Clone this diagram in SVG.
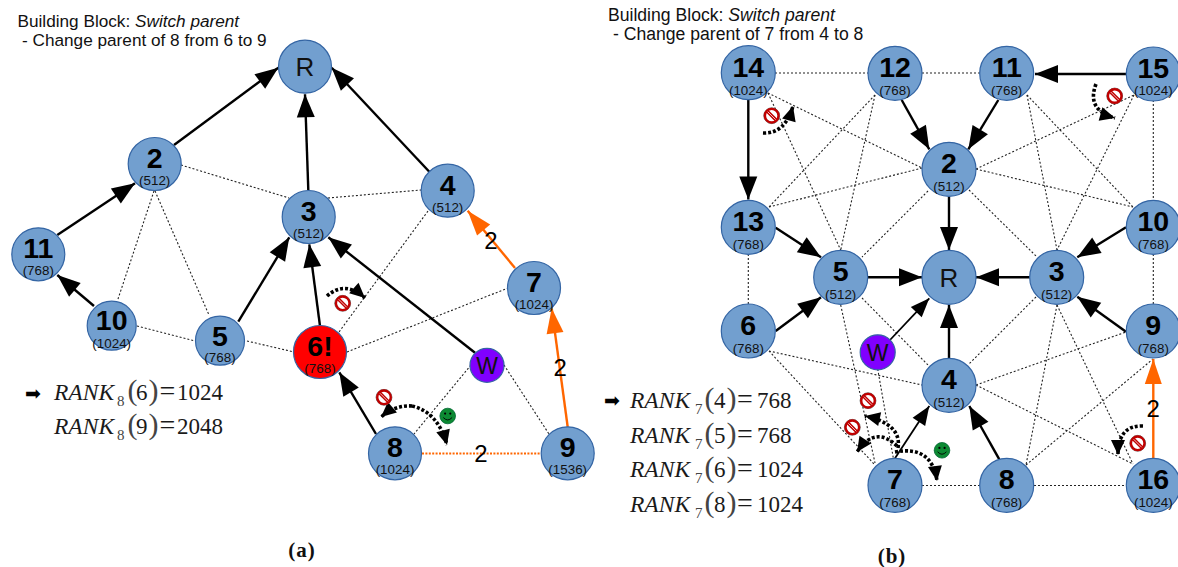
<svg xmlns="http://www.w3.org/2000/svg" xmlns:xlink="http://www.w3.org/1999/xlink" width="1178" height="567" viewBox="0 0 1178 567">
<style>
text{font-family:"Liberation Sans",Arial,sans-serif;fill:#111}
.n{fill:#729fcf;stroke:#3465a4;stroke-width:1.2}
.red{fill:#ff0000}
.pur{fill:#8000ff}
.id{font-size:28.5px;font-weight:700;text-anchor:middle;fill:#000}
.rk{font-size:13.4px;text-anchor:middle}
.big{font-size:26px;text-anchor:middle}
.t{font-size:17.2px}
.t2{font-size:17.6px}
.w{font-size:24px;text-anchor:middle;fill:#000}
.dot{fill:none;stroke:#222;stroke-width:1.1;stroke-dasharray:2 2}
.s{fill:none;stroke:#000;stroke-width:2.4;marker-end:url(#h)}
.th{fill:none;stroke:#000;stroke-width:1.8;marker-end:url(#h2)}
.o{fill:none;stroke:#ff6600;stroke-width:2.4;marker-end:url(#ho)}
.od{fill:none;stroke:#ff6600;stroke-width:2.2;stroke-dasharray:2 1.4}
.c{fill:none;stroke:#000;stroke-width:3.6;stroke-dasharray:3 2;marker-end:url(#hc)}
.f,.f tspan{font-family:"Liberation Serif","Times New Roman",serif}
.f{font-size:23px;fill:#1a1a1a}
.i{font-style:italic;font-size:23.5px}
.sub{font-size:15px;fill:#444}
.p{font-size:30px;fill:#444}
.e{font-size:28px}
.ar{font-family:"DejaVu Sans",sans-serif;font-size:19px;fill:#000}
.cap{font-family:"Liberation Serif","Times New Roman",serif;font-size:21px;font-weight:700;letter-spacing:1px;text-anchor:middle;fill:#111}
</style>
<defs>
<marker id="h" markerUnits="userSpaceOnUse" markerWidth="24" markerHeight="18" refX="0" refY="0" orient="auto" overflow="visible"><path d="M-23,-9L0,0L-23,9Z" fill="#000"/></marker>
<marker id="h2" markerUnits="userSpaceOnUse" markerWidth="24" markerHeight="18" refX="0" refY="0" orient="auto" overflow="visible"><path d="M-19,-7.5L0,0L-19,7.5Z" fill="#000"/></marker>
<marker id="ho" markerUnits="userSpaceOnUse" markerWidth="24" markerHeight="18" refX="0" refY="0" orient="auto" overflow="visible"><path d="M-25,-8.5L0,0L-25,8.5Z" fill="#ff6600"/></marker>
<marker id="hc" markerUnits="userSpaceOnUse" markerWidth="16" markerHeight="14" refX="0" refY="0" orient="auto" overflow="visible"><path d="M-15,-7L0,0L-15,7Z" fill="#000"/></marker>
<g id="no"><circle r="7.9" fill="#fff" stroke="#111" stroke-width="0.6"/><circle r="6.8" fill="#fff" stroke="#c00000" stroke-width="2.4"/><path d="M-4.8,-4.8L4.8,4.8" stroke="#c00000" stroke-width="3.4"/><path d="M-4,-4L4,4" stroke="#f4d0d0" stroke-width="0.9"/></g>
<g id="sm"><circle r="7.8" fill="#0d8a33" stroke="#063" stroke-width="0.8"/><circle cx="-2.6" cy="-2.4" r="1.1" fill="#000"/><circle cx="2.6" cy="-2.4" r="1.1" fill="#000"/><path d="M-4.4,1.5Q0,6.4 4.4,1.5" fill="none" stroke="#000" stroke-width="0.9"/></g>
</defs>

<g id="connectors">
<g id="a-dotted">
<path class="dot" d="M181,165L289,198"/>
<path class="dot" d="M154,191L118,299"/>
<path class="dot" d="M155,191L209,315"/>
<path class="dot" d="M328,198L421,190"/>
<path class="dot" d="M428,211L339,332"/>
<path class="dot" d="M137,326L195,341"/>
<path class="dot" d="M247,341L294,352"/>
<path class="dot" d="M347,352L508,288"/>
<path class="dot" d="M471,365L414,434"/>
<path class="dot" d="M504,365L549,434"/>
<path class="od" d="M422,453.5H541"/>
</g>
<g id="a-solid">
<path class="s" d="M174,145L278.3,67.7"/>
<path class="s" d="M308.3,190L305,94.3"/>
<path class="s" d="M429.3,171.7L331.7,67.7"/>
<path class="s" d="M57.3,235L135,183.3"/>
<path class="s" d="M94,306L57.3,275"/>
<path class="s" d="M238.3,321.7L289.3,237.3"/>
<path class="s" d="M320,326L309.3,244.3"/>
<path class="s" d="M475,352.7L328.3,237.3"/>
<path class="s" d="M376,434L339.3,372.3"/>
<path class="o" d="M515,268L467.7,210.7"/>
<path class="o" d="M567.7,427L551.7,308.3"/>
</g>
<g id="a-curved">
<path class="c" d="M327,296Q345,280 365,298"/>
<path class="c" d="M412,406Q395,405 381,417"/>
<path class="c" d="M412,406Q438,412 447,445"/>
</g>
<g id="b-dotted">
<path class="dot" d="M775,73H868"/>
<path class="dot" d="M922,73H980"/>
<path class="dot" d="M768,93L922,168"/>
<path class="dot" d="M768,93L840.7,250"/>
<path class="dot" d="M875,95L769,207"/>
<path class="dot" d="M875,95L840.7,250"/>
<path class="dot" d="M769,207L922,168"/>
<path class="dot" d="M928,191L862,257"/>
<path class="dot" d="M748.3,254V304"/>
<path class="dot" d="M1027,95L1057,250"/>
<path class="dot" d="M1027,95L1133,207"/>
<path class="dot" d="M976,169L1134,95"/>
<path class="dot" d="M1134,95L1057,250"/>
<path class="dot" d="M976,169L1133,207"/>
<path class="dot" d="M969,190L1037,257"/>
<path class="dot" d="M1153.3,100V200"/>
<path class="dot" d="M1153.3,254V304"/>
<path class="dot" d="M1036,297L969,364"/>
<path class="dot" d="M1057,305L1026,465"/>
<path class="dot" d="M1057,305L1133,464"/>
<path class="dot" d="M976,385L1126,332"/>
<path class="dot" d="M976,385L1133,464"/>
<path class="dot" d="M1026,465L1153,359"/>
<path class="dot" d="M922,485.5H980"/>
<path class="dot" d="M1034,485.5H1126"/>
<path class="dot" d="M769,351L922,385"/>
<path class="dot" d="M769,351L875,465"/>
<path class="dot" d="M840.7,305L875,463"/>
<path class="dot" d="M862,298L928,365"/>
<path class="dot" d="M877.7,369L893.3,458"/>
</g>
<g id="b-solid">
<path class="s" d="M901.7,100L929.3,149.3"/>
<path class="s" d="M998.3,100L968.3,149.3"/>
<path class="s" d="M1126,74L1035,74"/>
<path class="s" d="M748.3,100L748.3,199.5"/>
<path class="s" d="M775.7,227.7L821,257.3"/>
<path class="s" d="M949,196.5L949,250"/>
<path class="s" d="M868,277.3L922,277.3"/>
<path class="s" d="M1030,277.3L976,277.3"/>
<path class="s" d="M1126,227.3L1077.3,257.3"/>
<path class="s" d="M1126,331.7L1077.3,296.7"/>
<path class="s" d="M775.7,331L821,297.3"/>
<path class="th" d="M890,340L929.3,298.3"/>
<path class="s" d="M949,358.5L949,305"/>
<path class="th" d="M895,458.3L929.3,406"/>
<path class="s" d="M999.3,459.3L969.3,406"/>
<path class="o" d="M1153.3,458.5L1153.3,359"/>
</g>
<g id="b-curved">
<path class="c" d="M763,133Q785,134 793,106"/>
<path class="c" d="M1096,84Q1086,110 1115,118"/>
<path class="c" d="M1143,426Q1118,425 1118,455"/>
<path class="c" d="M898,448Q902,424 865,416"/>
<path class="c" d="M897,446Q875,425 857,452"/>
<path class="c" d="M895,452Q932,445 937,481"/>
</g>
</g>

<g id="a-nodes">
<g id="a-R"><circle class="n" cx="305" cy="66.7" r="26.5"/><text class="big" x="305" y="76">R</text></g>
<g id="a-2"><circle class="n" cx="154.7" cy="164" r="26.5"/><text class="id" x="154.7" y="168">2</text><text class="rk" x="154.7" y="185">(512)</text></g>
<g id="a-3"><circle class="n" cx="308.7" cy="217" r="26.5"/><text class="id" x="308.7" y="221">3</text><text class="rk" x="308.7" y="238">(512)</text></g>
<g id="a-4"><circle class="n" cx="447.7" cy="190.7" r="26.5"/><text class="id" x="447.7" y="194.7">4</text><text class="rk" x="447.7" y="212">(512)</text></g>
<g id="a-11"><circle class="n" cx="38.3" cy="254.3" r="26.5"/><text class="id" x="38.3" y="258">11</text><text class="rk" x="38.3" y="275">(768)</text></g>
<g id="a-10"><circle class="n" cx="111.7" cy="325.7" r="24.5"/><text class="id" x="111.7" y="329.5">10</text><text class="rk" x="111.7" y="348">(1024)</text></g>
<g id="a-5"><circle class="n" cx="220" cy="340.7" r="24.5"/><text class="id" x="220" y="346">5</text><text class="rk" x="220" y="362">(768)</text></g>
<g id="a-6"><circle class="n red" cx="320" cy="352" r="26.5"/><text class="id" x="320" y="356">6!</text><text class="rk" x="320" y="373">(768)</text></g>
<g id="a-7"><circle class="n" cx="534" cy="288" r="26.5"/><text class="id" x="534" y="292">7</text><text class="rk" x="534" y="309">(1024)</text></g>
<g id="a-W"><circle class="n pur" cx="487" cy="365.3" r="17"/><text class="big" x="487" y="373.5" style="font-size:23px">W</text></g>
<g id="a-8"><circle class="n" cx="395" cy="453.3" r="26.5"/><text class="id" x="395" y="457">8</text><text class="rk" x="395" y="474">(1024)</text></g>
<g id="a-9"><circle class="n" cx="567.7" cy="453.3" r="26.5"/><text class="id" x="567.7" y="457">9</text><text class="rk" x="567.7" y="474">(1536)</text></g>
</g>

<g id="b-nodes">
<g id="b-14"><circle class="n" cx="748.3" cy="72.7" r="27"/><text class="id" x="748.3" y="76.5">14</text><text class="rk" x="748.3" y="95">(1024)</text></g>
<g id="b-12"><circle class="n" cx="895" cy="73.3" r="27"/><text class="id" x="895" y="77">12</text><text class="rk" x="895" y="95">(768)</text></g>
<g id="b-11"><circle class="n" cx="1006.7" cy="73.3" r="27"/><text class="id" x="1006.7" y="77">11</text><text class="rk" x="1006.7" y="95">(768)</text></g>
<g id="b-15"><circle class="n" cx="1153.3" cy="74" r="27"/><text class="id" x="1153.3" y="77.5">15</text><text class="rk" x="1153.3" y="95">(1024)</text></g>
<g id="b-2"><circle class="n" cx="949" cy="169.3" r="27"/><text class="id" x="949" y="173">2</text><text class="rk" x="949" y="191">(512)</text></g>
<g id="b-13"><circle class="n" cx="748.3" cy="227.3" r="27"/><text class="id" x="748.3" y="231">13</text><text class="rk" x="748.3" y="248.5">(768)</text></g>
<g id="b-10"><circle class="n" cx="1153.3" cy="227.3" r="27"/><text class="id" x="1153.3" y="231">10</text><text class="rk" x="1153.3" y="249">(768)</text></g>
<g id="b-5"><circle class="n" cx="840.7" cy="277.3" r="27"/><text class="id" x="840.7" y="281">5</text><text class="rk" x="840.7" y="299">(512)</text></g>
<g id="b-R"><circle class="n" cx="949" cy="277.3" r="27"/><text class="big" x="949" y="287">R</text></g>
<g id="b-3"><circle class="n" cx="1056.7" cy="277.3" r="27"/><text class="id" x="1056.7" y="281">3</text><text class="rk" x="1056.7" y="299">(512)</text></g>
<g id="b-6"><circle class="n" cx="748.3" cy="331" r="27"/><text class="id" x="748.3" y="335">6</text><text class="rk" x="748.3" y="353">(768)</text></g>
<g id="b-9"><circle class="n" cx="1153.3" cy="331" r="27"/><text class="id" x="1153.3" y="335">9</text><text class="rk" x="1153.3" y="353">(768)</text></g>
<g id="b-W"><circle class="n pur" cx="877.7" cy="352.3" r="17.5"/><text class="big" x="877.7" y="361" style="font-size:23px">W</text></g>
<g id="b-4"><circle class="n" cx="949" cy="385.3" r="27"/><text class="id" x="949" y="389">4</text><text class="rk" x="949" y="407">(512)</text></g>
<g id="b-7"><circle class="n" cx="895" cy="485.3" r="27"/><text class="id" x="895" y="489">7</text><text class="rk" x="895" y="507">(768)</text></g>
<g id="b-8"><circle class="n" cx="1006.7" cy="485.3" r="27"/><text class="id" x="1006.7" y="489">8</text><text class="rk" x="1006.7" y="507">(768)</text></g>
<g id="b-16"><circle class="n" cx="1153.3" cy="485.3" r="27"/><text class="id" x="1153.3" y="489">16</text><text class="rk" x="1153.3" y="507">(1024)</text></g>
</g>

<g id="icons">
<use href="#no" x="342.7" y="303.3"/>
<use href="#no" x="384" y="397.3"/>
<use href="#sm" x="447.7" y="416"/>
<use href="#no" x="771.7" y="115.7"/>
<use href="#no" x="1114.7" y="96"/>
<use href="#no" x="1137.7" y="443.3"/>
<use href="#no" x="868" y="400.7"/>
<use href="#no" x="852.3" y="427.3"/>
<use href="#sm" x="942" y="450.3"/>
</g>

<g id="labels">
<text class="t" x="17.5" y="27">Building Block: <tspan font-style="italic">Switch parent</tspan></text>
<text class="t" x="22" y="46">- Change parent of 8 from 6 to 9</text>
<text class="t2" x="608" y="21">Building Block: <tspan font-style="italic">Switch parent</tspan></text>
<text class="t2" x="613" y="40">- Change parent of 7 from 4 to 8</text>
<text class="w" x="491" y="248.5">2</text>
<text class="w" x="560.3" y="376">2</text>
<text class="w" x="481" y="462">2</text>
<text class="w" x="1153.3" y="417">2</text>

<text class="ar" x="25" y="400">➡</text>
<text class="f" y="400"><tspan class="i" x="54">RANK</tspan><tspan class="sub" x="117" y="406">8</tspan><tspan class="p" x="127.5" y="400">(</tspan><tspan x="136">6</tspan><tspan class="p" x="148.5">)</tspan><tspan class="e" x="159.5">=</tspan><tspan x="177">1024</tspan></text>
<text class="f" y="434"><tspan class="i" x="54">RANK</tspan><tspan class="sub" x="117" y="440">8</tspan><tspan class="p" x="127.5" y="434">(</tspan><tspan x="136">9</tspan><tspan class="p" x="148.5">)</tspan><tspan class="e" x="159.5">=</tspan><tspan x="177">2048</tspan></text>

<text class="ar" x="604" y="407">➡</text>
<text class="f" y="408"><tspan class="i" x="630">RANK</tspan><tspan class="sub" x="695" y="414">7</tspan><tspan class="p" x="704.5" y="408">(</tspan><tspan x="714">4</tspan><tspan class="p" x="726.5">)</tspan><tspan class="e" x="737">=</tspan><tspan x="757">768</tspan></text>
<text class="f" y="443"><tspan class="i" x="630">RANK</tspan><tspan class="sub" x="695" y="449">7</tspan><tspan class="p" x="704.5" y="443">(</tspan><tspan x="714">5</tspan><tspan class="p" x="726.5">)</tspan><tspan class="e" x="737">=</tspan><tspan x="757">768</tspan></text>
<text class="f" y="477"><tspan class="i" x="630">RANK</tspan><tspan class="sub" x="695" y="483">7</tspan><tspan class="p" x="704.5" y="477">(</tspan><tspan x="714">6</tspan><tspan class="p" x="726.5">)</tspan><tspan class="e" x="737">=</tspan><tspan x="757">1024</tspan></text>
<text class="f" y="512"><tspan class="i" x="630">RANK</tspan><tspan class="sub" x="695" y="518">7</tspan><tspan class="p" x="704.5" y="512">(</tspan><tspan x="714">8</tspan><tspan class="p" x="726.5">)</tspan><tspan class="e" x="737">=</tspan><tspan x="757">1024</tspan></text>

<text class="cap" x="302" y="556.5">(a)</text>
<text class="cap" x="892" y="563">(b)</text>
</g>
</svg>
